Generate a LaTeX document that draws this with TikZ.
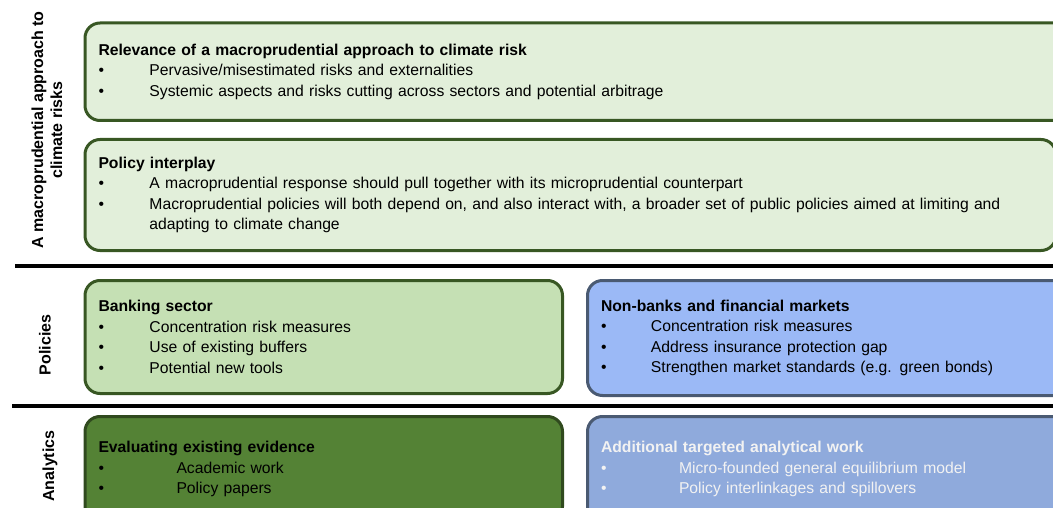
\documentclass[tikz,border=0pt]{standalone}
\usepackage{fontspec}
\setmainfont{Liberation Sans}
\usepackage{xcolor}
\usetikzlibrary{positioning}

\definecolor{paleGreen}{HTML}{E2EFDA}
\definecolor{midGreen}{HTML}{C5E0B4}
\definecolor{deepGreen}{HTML}{548235}
\definecolor{edgeGreen}{HTML}{385723}
\definecolor{paleBlue}{HTML}{9BB9F6}
\definecolor{midBlue}{HTML}{8FAADC}
\definecolor{edgeBlue}{HTML}{4A5A72}

\newcommand{\bitem}[2][51pt]{\makebox[#1][l]{•}#2}

\begin{document}
\begin{tikzpicture}[
  x=1pt,
  y=-1pt,
  box/.style={draw, line width=3pt, rounded corners=15pt, anchor=north west,
    inner xsep=13.5pt, inner ysep=0pt, align=left,
    font=\fontsize{15.7}{20.5}\selectfont},
  greenbox/.style={box, fill=paleGreen, draw=edgeGreen},
  bankbox/.style={box, fill=midGreen, draw=edgeGreen},
  evidbox/.style={box, fill=deepGreen, draw=edgeGreen!85!black},
  bluebox/.style={box, fill=paleBlue, draw=edgeBlue},
  workbox/.style={box, fill=midBlue, draw=edgeBlue, text=white!95!black},
  rule/.style={black, line width=4pt},
  side/.style={rotate=90, align=center, font=\fontsize{16}{19}\selectfont\bfseries}
]
  \useasboundingbox (0,0) rectangle (1053,508);
  \clip (0,0) rectangle (1053,508);

  % macroprudential approach
  \node[greenbox, text width=973pt, minimum height=97.5pt] (rel) at (83.5,21.5)
    {\textbf{Relevance of a macroprudential approach to climate risk}\\
     \bitem{Pervasive/misestimated risks and externalities}\\
     \bitem{Systemic aspects and risks cutting across sectors and potential arbitrage}};
  \node[greenbox, text width=944pt, minimum height=111pt] (inter) at (83.5,138)
    {\textbf{Policy interplay}\\
     \bitem{A macroprudential response should pull together with its microprudential counterpart}\\
     \bitem{Macroprudential policies will both depend on, and also interact with, a broader set of public policies aimed at limiting and}\\
     \hspace*{51pt}adapting to climate change};

  \draw[rule] (15,265.5) -- (1053,265.5);

  % policies
  \node[bankbox, text width=450.5pt, minimum height=113pt] (bank) at (83.5,279)
    {\textbf{Banking sector}\\
     \bitem{Concentration risk measures}\\
     \bitem{Use of existing buffers}\\
     \bitem{Potential new tools}};
  \node[bluebox, text width=483pt, minimum height=115pt] (nonbank) at (586,279)
    {\textbf{Non-banks and financial markets}\\
     \bitem[50pt]{Concentration risk measures}\\
     \bitem[50pt]{Address insurance protection gap}\\
     \bitem[50pt]{Strengthen market standards (e.g. green bonds)}};

  \draw[rule] (12,406.3) -- (1053,406.3);

  % analytics
  \node[evidbox, text width=450.5pt, minimum height=105pt] (evid) at (83.5,415)
    {\textbf{Evaluating existing evidence}\\
     \bitem[78pt]{Academic work}\\
     \bitem[78pt]{Policy papers}};
  \node[workbox, text width=483pt, minimum height=105pt] (work) at (586,415)
    {\textbf{Additional targeted analytical work}\\
     \bitem[78pt]{Micro-founded general equilibrium model}\\
     \bitem[78pt]{Policy interlinkages and spillovers}};

  \node[side] (approach) at (47,130) {A macroprudential approach to\\climate risks};
  \node[side] (policies) at (45,345) {Policies};
  \node[side] (analytics) at (50,466) {Analytics};
\end{tikzpicture}
\end{document}
